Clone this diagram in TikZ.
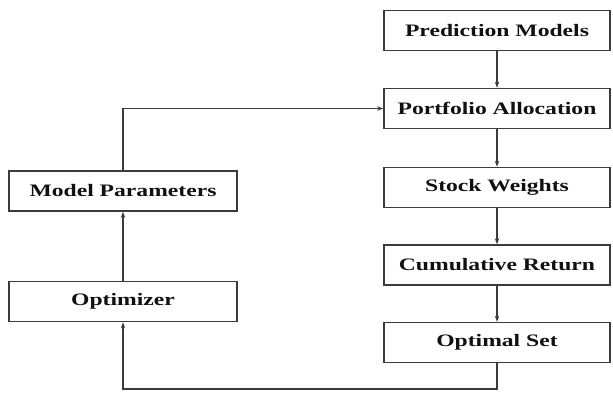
\documentclass[tikz,border=0pt]{standalone}
\usepackage{fontspec}
\usepackage{tikz}
\usetikzlibrary{arrows.meta}
\newfontfamily\flowfont[FakeStretch=1.35]{Liberation Serif}
\definecolor{edge}{HTML}{3C3C3C}
\definecolor{ink}{HTML}{111111}
\tikzset{
  flowBox/.style={draw=edge, line width=1.6pt, minimum width=226pt, minimum height=40pt,
    inner sep=0pt, text=ink, font=\flowfont\fontsize{17.5}{20}\selectfont\bfseries},
  flowArrow/.style={draw=edge, line width=1.5pt, -{Stealth[length=6pt,width=4.5pt]}}
}

\begin{document}
\begin{tikzpicture}[x=1pt, y=1pt]
  \useasboundingbox (0,0) rectangle (613,392);

  \node[flowBox] (pred)  at (497,361.5) {Prediction Models};
  \node[flowBox] (alloc) at (497,283.5) {Portfolio Allocation};
  \node[flowBox] (weights) at (497,204.5) {Stock Weights};
  \node[flowBox] (cumret) at (497,127) {Cumulative Return};
  \node[flowBox] (optset) at (497,49.5) {Optimal Set};

  \node[flowBox, minimum width=228pt] (params) at (123,201) {Model Parameters};
  \node[flowBox, minimum width=228pt] (optim)  at (123,90.5) {Optimizer};

  \coordinate (loopBottom) at (497,3);
  \coordinate (loopTop) at (123,283.5);

  \draw[flowArrow] (pred) -- (alloc);
  \draw[flowArrow] (alloc) -- (weights);
  \draw[flowArrow] (weights) -- (cumret);
  \draw[flowArrow] (cumret) -- (optset);

  \draw[flowArrow] (optset.south) -- (loopBottom) -| (optim.south);
  \draw[flowArrow] (optim) -- (params);
  \draw[flowArrow] (params.north) -- (loopTop) -- (alloc.west);
\end{tikzpicture}
\end{document}
